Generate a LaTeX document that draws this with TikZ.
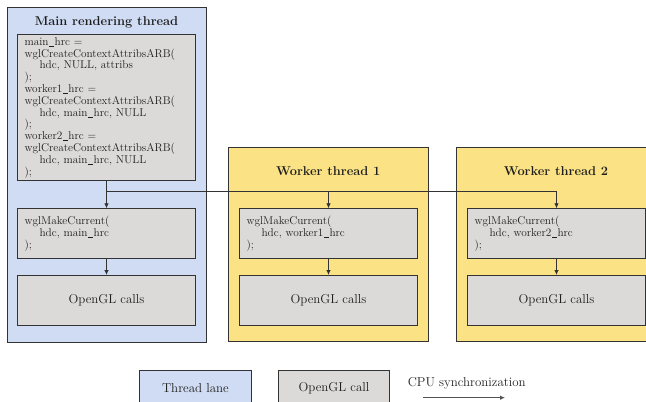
\documentclass[tikz,border=0pt]{standalone}
\usetikzlibrary{arrows.meta}

\definecolor{lanebg}{HTML}{D0DCF3}
\definecolor{workerbg}{HTML}{FBE385}
\definecolor{callbg}{HTML}{DBDAD9}
\definecolor{edgecol}{HTML}{333333}
\definecolor{textcol}{HTML}{1E1E1E}

\tikzset{
  lanebox/.style={draw=edgecol, line width=0.9pt, rectangle, inner sep=0pt, anchor=north west},
  callbox/.style={draw=edgecol, line width=0.9pt, rectangle, fill=callbg, inner sep=0pt,
    anchor=north west, minimum width=177.5pt, text=textcol},
  codebox/.style={callbox, inner xsep=6.8pt, text width=163.9pt, align=left,
    font=\fontsize{11.3}{12.4}\selectfont},
  glbox/.style={callbox, minimum height=50pt, font=\fontsize{12.9}{15}\selectfont},
  lanetitle/.style={anchor=base, text=textcol, font=\fontsize{12.8}{15}\selectfont\bfseries},
  legendtext/.style={text=textcol, font=\fontsize{12.9}{15}\selectfont},
  syncline/.style={draw=edgecol, line width=0.8pt},
  syncarrow/.style={syncline, -{Latex[length=5pt,width=4.5pt]}},
}
\newcommand{\ind}{\hspace*{15pt}}
% a short underscore, as in identifiers
\newcommand{\us}{\kern0.06em\rule[-0.12em]{0.42em}{0.045em}\kern0.06em}

\begin{document}
\begin{tikzpicture}[x=1pt,y=-1pt]
  \useasboundingbox (0,0) rectangle (646,402);

  % thread lanes
  \node[lanebox, fill=lanebg, minimum width=199pt, minimum height=334.5pt] (mainlane) at (7,7) {};
  \node[lanebox, fill=workerbg, minimum width=200pt, minimum height=194.5pt] (w1lane) at (228.3,146.5) {};
  \node[lanebox, fill=workerbg, minimum width=200pt, minimum height=194.5pt] (w2lane) at (456,146.5) {};

  \node[lanetitle] (maintitle) at (106.5,25.5) {Main rendering thread};
  \node[lanetitle] (w1title) at (328.3,175) {Worker thread 1};
  \node[lanetitle] (w2title) at (556,175) {Worker thread 2};

  % main thread calls
  \node[codebox, minimum height=145.7pt, font=\fontsize{11.3}{11.8}\selectfont] (maincreate) at (17.3,34.3) {%
    main\us hrc =\\
    wglCreateContextAttribsARB(\\
    \ind hdc, NULL, attribs\\
    );\\
    worker1\us hrc =\\
    wglCreateContextAttribsARB(\\
    \ind hdc, main\us hrc, NULL\\
    );\\
    worker2\us hrc =\\
    wglCreateContextAttribsARB(\\
    \ind hdc, main\us hrc, NULL\\
    );};
  \node[codebox, minimum height=49.7pt] (mainmake) at (17.3,208.3) {%
    wglMakeCurrent(\\
    \ind hdc, main\us hrc\\
    );};
  \node[glbox] (maingl) at (17.3,275) {OpenGL calls};

  % worker 1 calls
  \node[codebox, minimum height=49.7pt] (w1make) at (239.3,208.3) {%
    wglMakeCurrent(\\
    \ind hdc, worker1\us hrc\\
    );};
  \node[glbox] (w1gl) at (239.3,275) {OpenGL calls};

  % worker 2 calls
  \node[codebox, minimum height=49.7pt] (w2make) at (467.3,208.3) {%
    wglMakeCurrent(\\
    \ind hdc, worker2\us hrc\\
    );};
  \node[glbox] (w2gl) at (467.3,275) {OpenGL calls};

  % synchronization
  \coordinate (fork) at (106,191.5);
  \draw[syncarrow] (maincreate.south) -- (mainmake.north);
  \draw[syncarrow] (fork) -| (w2make.north);
  \draw[syncarrow] (w1make.north |- fork) -- (w1make.north);
  \draw[syncarrow] (mainmake.south) -- (maingl.north);
  \draw[syncarrow] (w1make.south) -- (w1gl.north);
  \draw[syncarrow] (w2make.south) -- (w2gl.north);

  % legend
  \node[lanebox, fill=lanebg, minimum width=111.4pt, minimum height=36pt, legendtext] (legthread) at (139.3,370) {Thread lane};
  \node[lanebox, fill=callbg, minimum width=111.6pt, minimum height=36pt, legendtext] (legcall) at (277.7,370) {OpenGL call};
  \node[legendtext, anchor=base] (legsync) at (466.7,386.5) {CPU synchronization};
  \coordinate (legA) at (422.7,397.7);
  \coordinate (legB) at (505,397.7);
  \draw[syncarrow, draw=edgecol!85, line width=1pt] (legA) -- (legB);
\end{tikzpicture}
\end{document}
